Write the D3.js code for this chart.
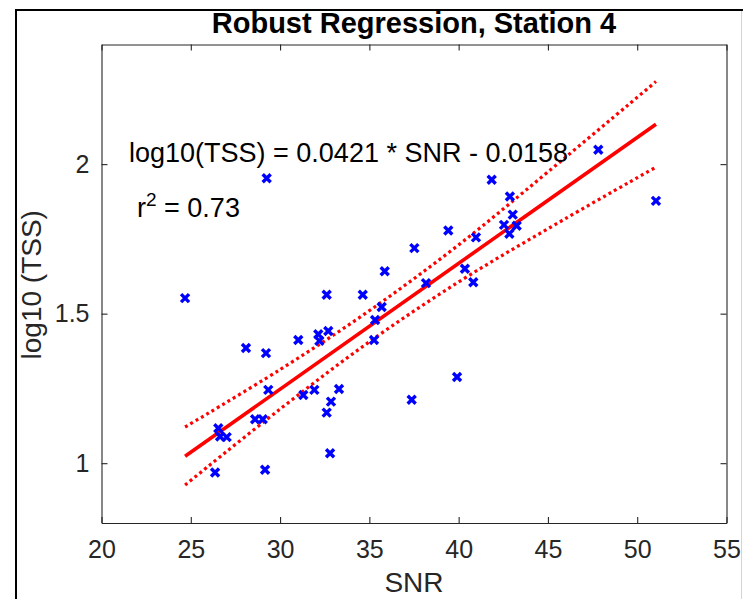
<!DOCTYPE html>
<html><head><meta charset="utf-8">
<script src="https://cdn.jsdelivr.net/npm/d3@7"></script>
<style>body{margin:0;background:#fff} svg{display:block}</style>
</head><body><svg id="c" width="743" height="599"></svg>
<script>
// ---- data ----
const snr = [24.68,29.25,47.82,41.85,42.87,43.03,42.54,43.25,42.84,51.05,39.42,40.97,37.52,35.86,40.35,38.17,40.82,32.61,34.63,35.69,35.32,35.26,31.02,32.14,32.70,32.20,28.09,29.21,37.37,39.91,29.34,31.30,31.92,33.30,32.85,32.61,28.60,29.03,26.54,26.64,27.01,32.80,26.36,29.16];
const logTSS = [1.552,1.953,2.048,1.948,1.892,1.831,1.797,1.794,1.767,1.877,1.778,1.755,1.719,1.642,1.650,1.602,1.605,1.563,1.563,1.522,1.479,1.412,1.412,1.431,1.442,1.409,1.385,1.368,1.212,1.288,1.245,1.228,1.245,1.248,1.206,1.169,1.147,1.147,1.117,1.089,1.087,1.033,0.969,0.978];
const xTicks = [20,25,30,35,40,45,50,55];
const yTicks = [1,1.5,2];
const fitSlope = 0.0421, fitIntercept = -0.0158;
const fitX = [24.68, 51.05];
const boundX = [24.68,30,35,40,45,51.05];
const upperBound = [1.121,1.313,1.510,1.730,1.974,2.276];
const lowerBound = [0.927,1.181,1.406,1.606,1.784,1.990];
const titleText = "Robust Regression, Station 4";
const xLabel = "SNR", yLabel = "log10 (TSS)";
const eqText = "log10(TSS) = 0.0421 * SNR - 0.0158";
const r2Value = "0.73";

// ---- layout ----
const svg = d3.select("#c");
const L = 101.5, R = 726.5, T = 44.5, B = 523;
const x = d3.scaleLinear().domain([20,55]).range([L,R]);
const y = d3.scaleLinear().domain([0.8,2.4]).range([B,T]);
const font = "'Liberation Sans', Arial, Helvetica, sans-serif";
const axCol = "#262626";

// outer figure frame
svg.append("rect").attr("x",16).attr("y",10).attr("width",900).attr("height",900)
  .attr("fill","none").attr("stroke","#000").attr("stroke-width",2);
svg.append("line").attr("x1",741.5).attr("x2",741.5).attr("y1",11).attr("y2",599)
  .attr("stroke","#d4d4d4").attr("stroke-width",1);

// axes
function styleAxis(g){
  g.selectAll("path").attr("stroke",axCol).attr("stroke-width",1.1);
  g.selectAll("line").attr("stroke",axCol).attr("stroke-width",1.1);
  g.selectAll("text").attr("fill",axCol).attr("font-family",font).attr("font-size",25);
}
svg.append("g").attr("transform",`translate(0,${B})`)
  .call(d3.axisBottom(x).tickValues(xTicks).tickSizeInner(-6).tickSizeOuter(0).tickPadding(17).tickFormat(d3.format("d")))
  .call(styleAxis).call(g=>g.selectAll("text").attr("dy","0.71em"));
svg.append("g").attr("transform",`translate(0,${T})`)
  .call(d3.axisTop(x).tickValues(xTicks).tickSizeInner(-6).tickSizeOuter(0).tickFormat(""))
  .call(styleAxis);
svg.append("g").attr("transform",`translate(${L},0)`)
  .call(d3.axisLeft(y).tickValues(yTicks).tickSizeInner(-6).tickSizeOuter(0).tickPadding(12).tickFormat(d3.format("")))
  .call(styleAxis);
svg.append("g").attr("transform",`translate(${R},0)`)
  .call(d3.axisRight(y).tickValues(yTicks).tickSizeInner(-6).tickSizeOuter(0).tickFormat(""))
  .call(styleAxis);

// bounds
const bLine = d3.line().x(d=>x(d[0])).y(d=>y(d[1])).curve(d3.curveCatmullRom);
[upperBound, lowerBound].forEach(b=>{
  svg.append("path").attr("d", bLine(boundX.map((v,i)=>[v,b[i]])))
    .attr("fill","none").attr("stroke","#ff0000").attr("stroke-width",3.2)
    .attr("stroke-dasharray","3 3.2");
});
// fit line
svg.append("path").attr("d", d3.line().x(d=>x(d)).y(d=>y(fitSlope*d+fitIntercept))(fitX))
  .attr("fill","none").attr("stroke","#ff0000").attr("stroke-width",3.6);

// points
svg.append("g").selectAll("path").data(snr.map((v,i)=>[v,logTSS[i]])).join("path")
  .attr("transform",d=>`translate(${x(d[0])},${y(d[1])})`)
  .attr("d","M-4,-4L4,4M-4,4L4,-4")
  .attr("stroke","#0000ff").attr("stroke-width",3.4).attr("fill","none");

// texts
svg.append("text").attr("x",(L+R)/2).attr("y",33).attr("text-anchor","middle")
  .attr("font-family",font).attr("font-weight","bold").attr("font-size",29).attr("fill","#000").text(titleText);
svg.append("text").attr("x",(L+R)/2).attr("y",592).attr("text-anchor","middle")
  .attr("font-family",font).attr("font-size",28).attr("fill",axCol).text(xLabel);
svg.append("text").attr("transform",`translate(41,${(T+B)/2+1}) rotate(-90)`).attr("text-anchor","middle")
  .attr("font-family",font).attr("font-size",28).attr("fill",axCol).text(yLabel);
svg.append("text").attr("x",129).attr("y",162).attr("font-family",font).attr("font-size",27)
  .attr("fill","#000").text(eqText);
const r2 = svg.append("text").attr("x",137).attr("y",217).attr("font-family",font).attr("font-size",27).attr("fill","#000");
r2.append("tspan").text("r");
r2.append("tspan").attr("font-size",19).attr("dy",-11).text("2");
r2.append("tspan").attr("dy",11).text(" = " + r2Value);
</script></body></html>
